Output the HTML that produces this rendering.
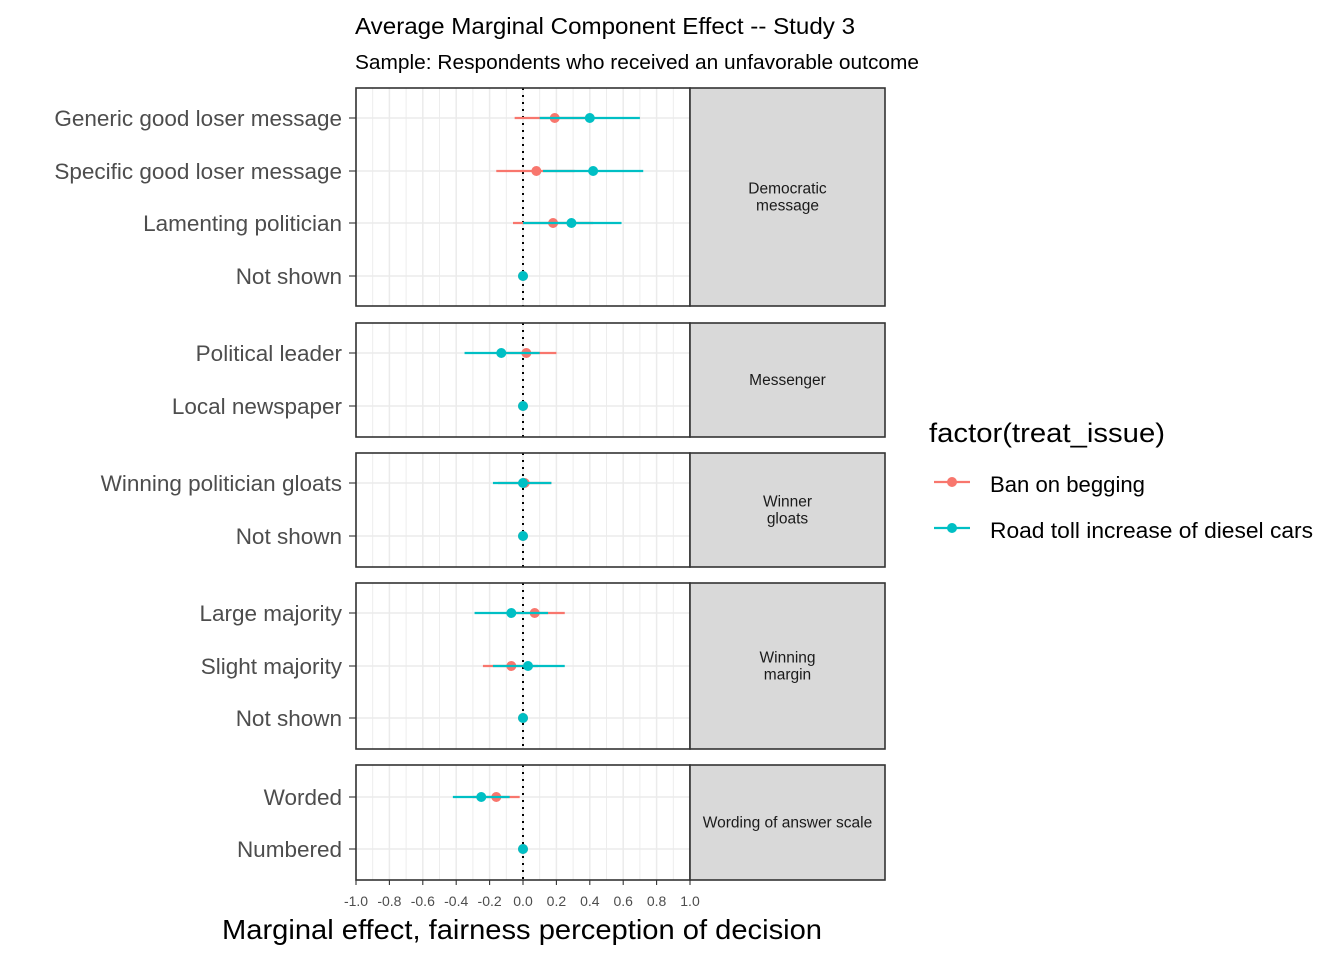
<!DOCTYPE html>
<html><head><meta charset="utf-8"><style>body{margin:0;background:#fff}svg{display:block}text{font-family:"Liberation Sans",sans-serif}</style></head>
<body>
<svg id="c" width="1344" height="960" xmlns="http://www.w3.org/2000/svg">
<text x="355" y="34" font-size="23" textLength="500" lengthAdjust="spacingAndGlyphs" fill="#000">Average Marginal Component Effect -- Study 3</text>
<text x="355" y="69" font-size="20" textLength="564" lengthAdjust="spacingAndGlyphs" fill="#000">Sample: Respondents who received an unfavorable outcome</text>
<text x="222" y="939" font-size="28" textLength="600" lengthAdjust="spacingAndGlyphs" fill="#000">Marginal effect, fairness perception of decision</text>
<text x="929" y="442" font-size="27" textLength="236" lengthAdjust="spacingAndGlyphs" fill="#000">factor(treat_issue)</text>
<g><line x1="934" x2="970" y1="482" y2="482" stroke="#F8766D" stroke-width="2.2"/><circle cx="952" cy="482" r="5" fill="#F8766D"/><text x="990" y="492" font-size="22.5" textLength="155" lengthAdjust="spacingAndGlyphs">Ban on begging</text></g>
<g><line x1="934" x2="970" y1="528" y2="528" stroke="#00BFC4" stroke-width="2.2"/><circle cx="952" cy="528" r="5" fill="#00BFC4"/><text x="990" y="538" font-size="22.5" textLength="323" lengthAdjust="spacingAndGlyphs">Road toll increase of diesel cars</text></g>
<g id="plot"></g>
</svg>
<script>
const panelNames = ["Democratic\nmessage","Messenger","Winner\ngloats","Winning\nmargin","Wording of answer scale"];
const panelTops = [88,323,453,583,765];
const panelBottoms = [306,437,567,749,880];
const rowLabels = [["Generic good loser message","Specific good loser message","Lamenting politician","Not shown"],["Political leader","Local newspaper"],["Winning politician gloats","Not shown"],["Large majority","Slight majority","Not shown"],["Worded","Numbered"]];
const rowY = [[118,171,223,276],[353,406],[483,536],[613,666,718],[797,849]];
const banEst = [[0.19,0.08,0.18,0],[0.02,0],[0.01,0],[0.07,-0.07,0],[-0.16,0]];
const banLo = [[-0.05,-0.16,-0.06,0],[-0.16,0],[-0.15,0],[-0.10,-0.24,0],[-0.30,0]];
const banHi = [[0.43,0.31,0.42,0],[0.20,0],[0.17,0],[0.25,0.09,0],[-0.02,0]];
const roadEst = [[0.40,0.42,0.29,0],[-0.13,0],[0,0],[-0.07,0.03,0],[-0.25,0]];
const roadLo = [[0.10,0.12,0.0,0],[-0.35,0],[-0.18,0],[-0.29,-0.18,0],[-0.42,0]];
const roadHi = [[0.70,0.72,0.59,0],[0.10,0],[0.17,0],[0.15,0.25,0],[-0.08,0]];
const xTicks = [-1,-0.8,-0.6,-0.4,-0.2,0,0.2,0.4,0.6,0.8,1];
const xTickLabels = ["-1.0","-0.8","-0.6","-0.4","-0.2","0.0","0.2","0.4","0.6","0.8","1.0"];

const NS="http://www.w3.org/2000/svg";
const X0=356,X1=690,S0=690,S1=885;
const xs=v=>X0+(v+1)/2*(X1-X0);
const g=document.getElementById('plot');
function mk(t,a,p){const e=document.createElementNS(NS,t);for(const k in a)e.setAttribute(k,a[k]);(p||g).appendChild(e);return e;}
panelTops.forEach((top,i)=>{
  const bot=panelBottoms[i];
  const pg=mk('g',{});
  
  
  mk('rect',{x:X0,y:top,width:X1-X0,height:bot-top,fill:'#fff'},pg);
  for(let v=-1;v<=1.001;v+=0.1){mk('line',{x1:xs(v),x2:xs(v),y1:top,y2:bot,stroke:'#ebebeb','stroke-width':Math.abs(Math.round(v*10))%2===0?1.5:0.9},pg);}
  rowY[i].forEach((y,j)=>{
    mk('line',{x1:X0,x2:X1,y1:y,y2:y,stroke:'#ebebeb','stroke-width':1.5},pg);
    mk('line',{x1:349,x2:X0,y1:y,y2:y,stroke:'#333','stroke-width':1.1},pg);
    const t=mk('text',{x:342,y:y+8,'font-size':22.5,'text-anchor':'end',fill:'#4d4d4d'},pg);t.textContent=rowLabels[i][j];
    
    
  });
  mk('line',{x1:xs(0),x2:xs(0),y1:top,y2:bot,stroke:'#000','stroke-width':2,'stroke-dasharray':'2,5'},pg);
  rowY[i].forEach((y,j)=>{
    const br=mk('g',{},pg);
    
    
    mk('line',{x1:xs(banLo[i][j]),x2:xs(banHi[i][j]),y1:y,y2:y,stroke:'#F8766D','stroke-width':2.2},br);
    mk('circle',{cx:xs(banEst[i][j]),cy:y,r:5,fill:'#F8766D'},br);
  });
  rowY[i].forEach((y,j)=>{
    const br=mk('g',{},pg);
    
    
    mk('line',{x1:xs(roadLo[i][j]),x2:xs(roadHi[i][j]),y1:y,y2:y,stroke:'#00BFC4','stroke-width':2.2},br);
    mk('circle',{cx:xs(roadEst[i][j]),cy:y,r:5,fill:'#00BFC4'},br);
  });
  mk('rect',{x:X0,y:top,width:X1-X0,height:bot-top,fill:'none',stroke:'#333','stroke-width':1.6},pg);
  const st=mk('rect',{x:S0,y:top,width:S1-S0,height:bot-top,fill:'#d9d9d9',stroke:'#333','stroke-width':1.6},pg);
  
  
  const lines=panelNames[i].split('\n');const mid=(top+bot)/2;
  lines.forEach((l,k)=>{const t=mk('text',{x:(S0+S1)/2,y:mid+5+(k-(lines.length-1)/2)*17,'font-size':15.5,'text-anchor':'middle',fill:'#1a1a1a'},pg);t.textContent=l;
    
    });
});
xTicks.forEach((v,i)=>{
  mk('line',{x1:xs(v),x2:xs(v),y1:880,y2:885,stroke:'#333','stroke-width':1.1});
  const t=mk('text',{x:xs(v),y:906,'font-size':14,'text-anchor':'middle',fill:'#4d4d4d'});t.textContent=xTickLabels[i];
  
  
});
</script>
</body></html>
